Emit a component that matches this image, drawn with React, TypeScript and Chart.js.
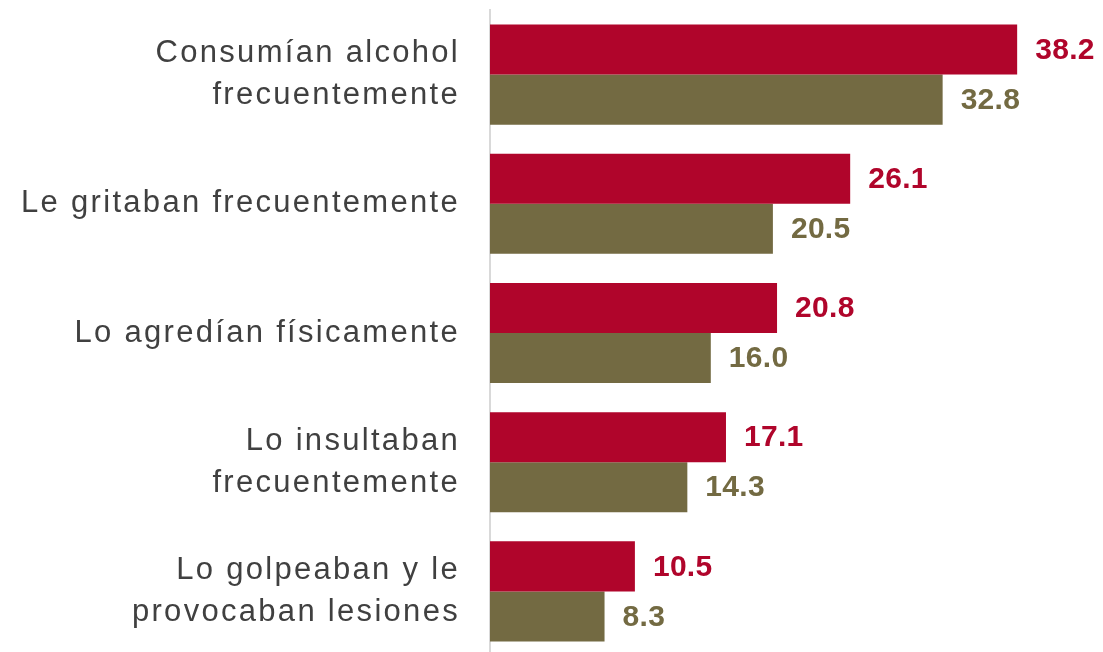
import React, { useEffect, useRef } from "react";
import { Chart, registerables } from "chart.js";

Chart.register(...registerables);

const categories: string[][] = [
  ["Consumían alcohol", "frecuentemente"],
  ["Le gritaban frecuentemente"],
  ["Lo agredían físicamente"],
  ["Lo insultaban", "frecuentemente"],
  ["Lo golpeaban y le", "provocaban lesiones"],
];
const seriesA = [38.2, 26.1, 20.8, 17.1, 10.5];
const seriesB = [32.8, 20.5, 16.0, 14.3, 8.3];
const colorA = "#B0052B";
const colorB = "#736A42";

const spacing = {
  id: "spacing",
  beforeDraw(chart: any) {
    chart.ctx.letterSpacing = "2.3px";
  },
};

const valueLabels = {
  id: "valueLabels",
  afterDatasetsDraw(chart: any) {
    const ctx = chart.ctx;
    ctx.save();
    ctx.letterSpacing = "0.3px";
    ctx.font = "bold 30px 'Liberation Sans', Arial, sans-serif";
    ctx.textBaseline = "middle";
    ctx.textAlign = "left";
    chart.data.datasets.forEach((ds: any, i: number) => {
      const meta = chart.getDatasetMeta(i);
      ctx.fillStyle = ds.backgroundColor;
      meta.data.forEach((bar: any, j: number) => {
        ctx.fillText(Number(ds.data[j]).toFixed(1), bar.x + 18, bar.y + 1);
      });
    });
    ctx.restore();
  },
};

export default function App() {
  const ref = useRef<HTMLCanvasElement>(null);
  useEffect(() => {
    document.body.style.margin = "0";
    const chart = new Chart(ref.current!, {
      type: "bar",
      data: {
        labels: categories,
        datasets: [
          { data: seriesA, backgroundColor: colorA, categoryPercentage: 0.775, barPercentage: 1 },
          { data: seriesB, backgroundColor: colorB, categoryPercentage: 0.775, barPercentage: 1 },
        ],
      },
      options: {
        indexAxis: "y",
        animation: false,
        responsive: false,
        layout: { padding: { top: 10, right: 61, bottom: 0, left: 0 } },
        plugins: { legend: { display: false }, tooltip: { enabled: false } },
        scales: {
          x: {
            min: 0,
            max: 40,
            display: false,
          },
          y: {
            afterFit(scale: any) {
              scale.width = 490;
              scale.paddingTop = 0;
              scale.paddingBottom = 0;
            },
            grid: { display: false, drawTicks: false },
            border: { display: true, color: "#d9d9d9", width: 2 },
            ticks: {
              color: "#404040",
              padding: 30,
              font: { family: "'Liberation Sans', Arial, sans-serif", size: 31, lineHeight: 1.35 },
            },
          },
        },
      },
      plugins: [spacing, valueLabels],
    });
    return () => chart.destroy();
  }, []);
  return (
    <div style={{ position: "fixed", left: 0, top: 0, width: 1103, height: 656, background: "#fff" }}>
      <canvas ref={ref} width={1103} height={656} />
    </div>
  );
}
